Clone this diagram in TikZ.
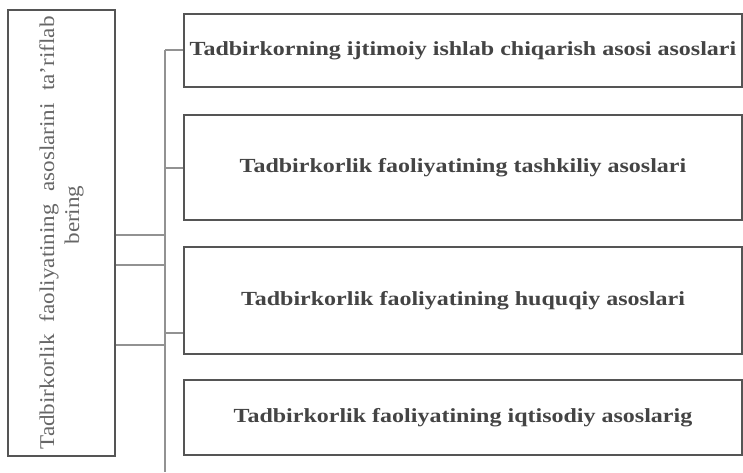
\documentclass[tikz,border=0pt]{standalone}
\usepackage{fontspec}
\setmainfont{Liberation Serif}
\newfontfamily\boxfont{Liberation Serif}[FakeStretch=1.2]
\newfontfamily\sidefont{Liberation Serif}[FakeStretch=1.1]
\definecolor{boxline}{HTML}{555555}
\definecolor{conline}{HTML}{929292}
\definecolor{boxtext}{HTML}{444444}
\definecolor{sidetext}{HTML}{666666}
\begin{document}
\begin{tikzpicture}[x=1pt,y=-1pt,
  framebox/.style={draw=boxline,line width=1.5pt,fill=white,rectangle,inner sep=0pt,
    minimum width=558pt,font=\boxfont\bfseries\fontsize{20}{24}\selectfont,text=boxtext},
  conn/.style={draw=conline,line width=2pt}]
\useasboundingbox (0,0) rectangle (743,472);
\fill[white] (0,0) rectangle (743,472);
% left box
\node[draw=boxline,line width=1.5pt,rectangle,inner sep=0pt,minimum width=107pt,minimum height=446pt] (L) at (61.5,233) {};
\node[rotate=90,align=center,text=sidetext,font=\sidefont\fontsize{21}{25}\selectfont] (Lt) at (L.center) {\makebox[433pt][s]{Tadbirkorlik faoliyatining asoslarini ta’riflab}\\\hspace*{36pt}bering};
% right boxes
\node[framebox,minimum height=73pt] (b1) at (463,50.5) {Tadbirkorning ijtimoiy ishlab chiqarish asosi asoslari};
\node[framebox,minimum height=105pt] (b2) at (463,167.5) {Tadbirkorlik faoliyatining tashkiliy asoslari};
\node[framebox,minimum height=107pt] (b3) at (463,300.5) {Tadbirkorlik faoliyatining huquqiy asoslari};
\node[framebox,minimum height=75pt] (b4) at (463,417.5) {Tadbirkorlik faoliyatining iqtisodiy asoslarig};
% trunk
\coordinate (ttop) at (165,50);
\coordinate (tbot) at (165,472);
\coordinate (j1) at (165,235);
\coordinate (j2) at (165,265);
\coordinate (j3) at (165,345);
\draw[conn] (ttop) -- (tbot);
\draw[conn] (ttop) -- (b1.west |- ttop);
\draw[conn] (b2.west -| ttop) -- (b2.west);
\draw[conn] (ttop |- 0,333) -- (b3.west |- 0,333);
\draw[conn] (L.east |- j1) -- (j1);
\draw[conn] (L.east |- j2) -- (j2);
\draw[conn] (L.east |- j3) -- (j3);
\end{tikzpicture}
\end{document}
